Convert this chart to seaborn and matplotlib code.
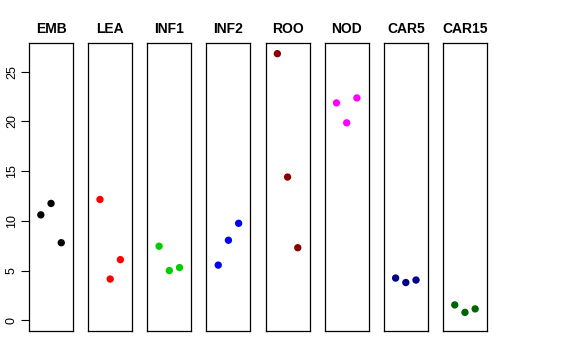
"""
Expression per tissue, three replicates each, one panel per tissue
"""

import numpy as np
import pandas as pd
import matplotlib
matplotlib.use("Agg")
import matplotlib.pyplot as plt
import seaborn as sns

tissues = ["EMB", "LEA", "INF1", "INF2", "ROO", "NOD", "CAR5", "CAR15"]
colors = ["black", "red", "#00CD00", "blue", "#8B0000", "magenta", "#00008B", "#006400"]
replicates = [1, 2, 3]

emb = [10.6, 11.75, 7.8]
lea = [12.15, 4.15, 6.1]
inf1 = [7.45, 5.0, 5.3]
inf2 = [5.55, 8.05, 9.75]
roo = [26.8, 14.4, 7.3]
nod = [21.85, 19.85, 22.35]
car5 = [4.25, 3.8, 4.05]
car15 = [1.55, 0.8, 1.15]

values = [emb, lea, inf1, inf2, roo, nod, car5, car15]
y_ticks = [0, 5, 10, 15, 20, 25]

sns.set_style("white")
plt.rcParams['font.family'] = ['Liberation Sans', 'DejaVu Sans']
plt.rcParams['text.color'] = 'black'
plt.rcParams['ytick.color'] = 'black'
plt.rcParams['ytick.labelcolor'] = 'black'

fig, axes = plt.subplots(1, len(tissues), figsize=(5.76, 3.6), dpi=100, sharey=True)
fig.subplots_adjust(left=29 / 576, right=487 / 576, top=1 - 43 / 360,
                    bottom=1 - 331 / 360, wspace=15 / 44)

ymax = max(max(v) for v in values)
pad = 0.04 * ymax

for i, (ax, name, vals, col) in enumerate(zip(axes, tissues, values, colors)):
    df = pd.DataFrame({"rep": replicates, "value": vals})
    sns.scatterplot(data=df, x="rep", y="value", color=col, s=28,
                    edgecolor="none", ax=ax)
    ax.set_xlim(-0.16, 4.16)
    ax.set_ylim(-pad, ymax + pad)
    ax.set_title(name, fontsize=10, fontweight="bold", pad=7, color="black")
    ax.set_xlabel("")
    ax.set_ylabel("")
    ax.set_xticks([])
    for sp in ax.spines.values():
        sp.set_visible(True)
        sp.set_color("black")
        sp.set_linewidth(0.9)
    if i == 0:
        ax.set_yticks(y_ticks)
        ax.tick_params(axis="y", left=True, length=6, width=0.8,
                       labelsize=9, pad=2, colors="black")
        for lab in ax.get_yticklabels():
            lab.set_rotation(90)
            lab.set_va("center")
    else:
        ax.tick_params(axis="y", left=False, labelleft=False)

plt.savefig("out.png", dpi=100)
plt.close()
